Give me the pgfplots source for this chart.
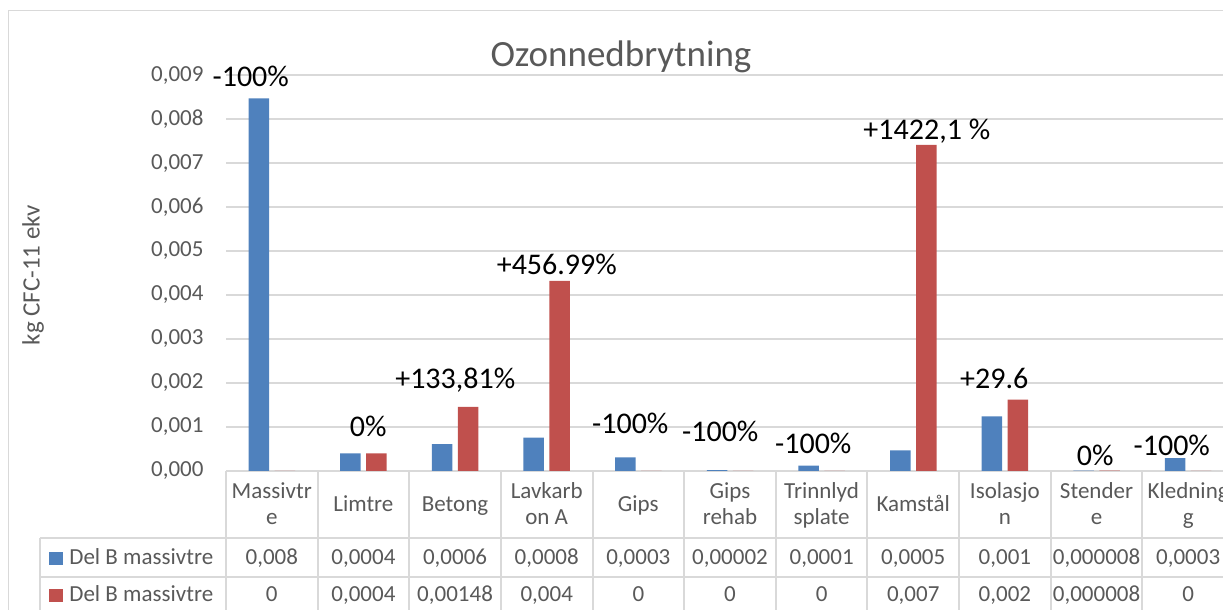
\documentclass[border=0pt]{standalone}
\usepackage{pgfplots}
\pgfplotsset{compat=1.18}
\usepackage{fontspec}
\setmainfont{Carlito}
\definecolor{xblue}{HTML}{4F81BD}
\definecolor{xred}{HTML}{C0504D}
\definecolor{txt}{HTML}{595959}
\definecolor{grd}{HTML}{D9D9D9}
\tikzset{lbl/.style={font=\fontsize{15}{17}\selectfont, text=black, inner sep=0pt, anchor=center, text height=0.63em, text depth=0pt},
  tv/.style={text=txt, font=\fontsize{11.5}{13}\selectfont, anchor=center, inner sep=0pt, text height=0.63em, text depth=0pt}}
\begin{document}
\begin{tikzpicture}
\path[use as bounding box] (0,0) rectangle (611.5pt,305pt);
\begin{axis}[
  at={(113pt,69.5pt)}, anchor=south west,
  scale only axis, width=504pt, height=198pt,
  xmin=-0.5, xmax=10.5, ymin=0, ymax=0.009,
  ybar=2.75pt, bar width=10.25pt,
  xtick=\empty,
  ytick={0,0.001,0.002,0.003,0.004,0.005,0.006,0.007,0.008,0.009},
  scaled y ticks=false,
  yticklabel={\pgfmathprintnumber[fixed,fixed zerofill,precision=3,use comma,assume math mode=true]{\tick}},
  ymajorgrids, grid style={grd, line width=0.7pt},
  axis line style={draw=none},
  major tick length=0pt,
  yticklabel style={font=\fontsize{11.5}{13}\selectfont, text=txt, xshift=-7.7pt},
  clip=false,
]
\addplot[fill=xblue, draw=none] coordinates {
 (0,0.00847) (1,0.00040) (2,0.00061) (3,0.00076) (4,0.00031) (5,0.00002)
 (6,0.00012) (7,0.00047) (8,0.00124) (9,0.000008) (10,0.00029)};
\addplot[fill=xred, draw=none] coordinates {
 (0,0) (1,0.00040) (2,0.00146) (3,0.00432) (4,0) (5,0)
 (6,0) (7,0.00741) (8,0.00162) (9,0.000008) (10,0)};
\node[lbl] at (axis cs:-0.23,0.00889) {-100\%};
\node[lbl] at (axis cs:1.053,0.000932) {0\%};
\node[lbl] at (axis cs:2.002,0.002023) {+133,81\%};
\node[lbl] at (axis cs:3.110,0.004614) {+456.99\%};
\node[lbl] at (axis cs:3.912,0.0010) {-100\%};
\node[lbl] at (axis cs:4.894,0.000818) {-100\%};
\node[lbl] at (axis cs:5.909,0.000545) {-100\%};
\node[lbl] at (axis cs:7.148,0.007682) {+1422,1 \%};
\node[lbl] at (axis cs:7.884,0.002023) {+29.6};
\node[lbl] at (axis cs:8.986,0.000273) {0\%};
\node[lbl] at (axis cs:9.821,0.0005) {-100\%};
\end{axis}
\begin{scope}[x=0.5pt,y=-0.5pt,shift={(0pt,305pt)}]
\draw[grd, line width=0.7pt] (8.5,615) -- (8.5,10.5) -- (1230,10.5);
\node[text=txt, font=\fontsize{18.5}{20}\selectfont, anchor=center] at (621,57) {Ozonnedbrytning};
\node[text=txt, font=\fontsize{12.5}{14}\selectfont, rotate=90, anchor=center] at (33,275) {kg CFC-11 ekv};
\draw[grd, line width=1pt] (40,538) -- (1230,538);
\draw[grd, line width=1pt] (40,577) -- (1230,577);
\draw[grd, line width=1pt] (40,538) -- (40,615);
\foreach \i in {0,...,11} {
  \draw[grd, line width=1pt] ({226+91.636*\i},471) -- ({226+91.636*\i},615);
}
\fill[xblue] (49,552) rectangle (63,565);
\fill[xred] (49,589) rectangle (63,602);
\node[tv, anchor=west] at (69,558) {Del B massivtre};
\node[tv, anchor=west] at (69,595) {Del B massivtre};
\foreach \n [count=\i from 0] in {Limtre, Betong, Gips, Kamstål} {}
\foreach \x/\n in {0/Limtre, 1/Betong, 3/Gips, 6/Kamstål} {
  \node[tv] at ({363.4+91.636*\x},505) {\n};
}
\foreach \x/\a/\b in {0/Massivtr/e, 3/Lavkarb/on A, 5/Gips/rehab, 6/Trinnlyd/splate, 8/Isolasjo/n, 9/Stender/e, 10/Kledning/g} {
  \node[tv] at ({271.8+91.636*\x},492) {\a};
  \node[tv] at ({271.8+91.636*\x},518) {\b};
}
\foreach \v [count=\i from 0] in {{0,008},{0,0004},{0,0006},{0,0008},{0,0003},{0,00002},{0,0001},{0,0005},{0,001},{0,000008},{0,0003}} {
  \node[tv] at ({271.8+91.636*\i},558) {\v};
}
\foreach \v [count=\i from 0] in {0,{0,0004},{0,00148},{0,004},0,0,0,{0,007},{0,002},{0,000008},0} {
  \node[tv] at ({271.8+91.636*\i},595) {\v};
}
\end{scope}
\end{tikzpicture}
\end{document}
